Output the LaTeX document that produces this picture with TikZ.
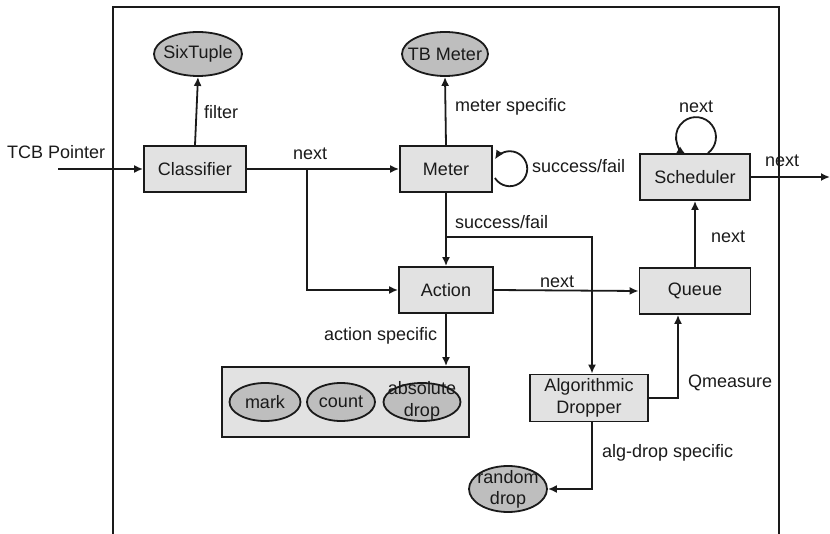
\documentclass[tikz,border=0pt]{standalone}
\usepackage{fontspec}
\setmainfont{Liberation Sans}
\usetikzlibrary{arrows.meta,shapes.geometric,calc}
\definecolor{boxfill}{HTML}{E2E2E2}
\definecolor{ovalfill}{HTML}{BEBEBE}
\definecolor{ink}{HTML}{1A1A1A}
\begin{document}
\begin{tikzpicture}[x=1pt,y=1pt,
  every node/.style={font=\fontsize{18}{20}\selectfont, text=ink},
  stepbox/.style={draw=ink, line width=1.8pt, fill=boxfill, inner sep=0pt},
  oval/.style={ellipse, draw=ink, line width=1.8pt, fill=ovalfill, inner sep=0pt},
  ovaltext/.style={inner sep=0pt, align=center},
  lbl/.style={anchor=base west, inner sep=0pt},
  conn/.style={draw=ink, line width=1.8pt},
  arr/.style={conn, -{Latex[length=9pt,width=8pt]}}]
\useasboundingbox (0,0) rectangle (830,-534);
% outer frame
\draw[conn] (113,-534) -- (113,-7) -- (779,-7) -- (779,-534);

% blocks
\node[stepbox, minimum width=102, minimum height=46] (classifier) at (195,-169) {Classifier};
\node[stepbox, minimum width=92,  minimum height=46] (meter) at (446,-169) {Meter};
\node[stepbox, minimum width=94,  minimum height=46] (action) at (446,-290) {Action};
\node[stepbox, minimum width=111, minimum height=46] (queue) at (695,-291) {Queue};
\node[stepbox, minimum width=110, minimum height=46] (scheduler) at (695,-177) {Scheduler};
\node[stepbox, minimum width=118, minimum height=47, align=center, font=\fontsize{18}{22}\selectfont] (dropper) at (589,-398) {Algorithmic\\Dropper};
\node[stepbox, minimum width=247, minimum height=70] (actbox) at (345.5,-402) {};

% ellipses (fixed size, text set on top)
\node[oval, minimum width=88, minimum height=44] (sixtuple) at (198,-54) {};
\node[ovaltext] (sixtupletext) at (sixtuple) {SixTuple};
\node[oval, minimum width=86, minimum height=44] (tbmeter) at (445,-54) {};
\node[ovaltext] (tbmetertext) at (tbmeter) {TB Meter};
\node[oval, minimum width=71, minimum height=38] (mark) at (265,-402) {};
\node[ovaltext] (marktext) at (mark) {mark};
\node[oval, minimum width=68, minimum height=38] (count) at (341,-402) {};
\node[ovaltext] (counttext) at (count) {count};
\node[oval, minimum width=77, minimum height=38] (absdrop) at (422,-402) {};
\node[ovaltext, font=\fontsize{18}{22}\selectfont] (absdroptext) at ([yshift=1]absdrop) {absolute\\drop};
\node[oval, minimum width=78, minimum height=46] (randomdrop) at (508,-489) {};
\node[ovaltext, font=\fontsize{18}{21}\selectfont] (randomdroptext) at (randomdrop) {random\\drop};

% free ends and junctions
\coordinate (tcbin) at (58,-169);
\coordinate (out) at (830,-177);
\coordinate (j1) at (307,-169);
\coordinate (j2) at (446,-237);
\coordinate (mloop) at ($(meter.east)+(2,-9)$);
\coordinate (sloop) at ($(scheduler.north)+(13,0)$);

% connectors
\draw[arr] (tcbin) -- (classifier.west);
\draw[arr] (classifier.north) -- (sixtuple.south);
\draw[arr] (classifier.east) -- (meter.west);
\draw[arr] (j1) |- (action.west);
\draw[arr] (meter.north) -- (tbmeter.south);
\draw[arr] (meter.south) -- (action.north);
\draw[arr] (j2) -| ([xshift=3]dropper.north);
\draw[arr] (action.east) -- (queue.west);
\draw[arr] (queue.north) -- (scheduler.south);
\draw[arr] (scheduler.east) -- (out);
\draw[arr] (dropper.east) -| ([xshift=-17]queue.south);
\draw[arr] ([xshift=3]dropper.south) |- (randomdrop.east);
\draw[arr] (action.south) -- (action.south |- actbox.north);
\draw[arr] (mloop) arc[start angle=212, end angle=508, radius=17.5];
\draw[arr] (sloop) arc[start angle=-53, end angle=240, radius=20];

% labels
\node[lbl] (ltcb) at (7,-159) {TCB Pointer};
\node[lbl] (lfilter) at (204,-119) {filter};
\node[lbl] (lnext1) at (293,-160) {next};
\node[lbl] (lmspec) at (455,-112) {meter specific};
\node[lbl] (lsf1) at (532,-173) {success/fail};
\node[lbl] (lsf2) at (455,-229) {success/fail};
\node[lbl] (lnext2) at (679,-113) {next};
\node[lbl] (lnext3) at (765,-167) {next};
\node[lbl] (lnext4) at (711,-243) {next};
\node[lbl] (lnext5) at (540,-288) {next};
\node[lbl] (laspec) at (324,-341) {action specific};
\node[lbl] (lqm) at (688,-388) {Qmeasure};
\node[lbl] (ladspec) at (602,-457) {alg-drop specific};
\end{tikzpicture}
\end{document}
